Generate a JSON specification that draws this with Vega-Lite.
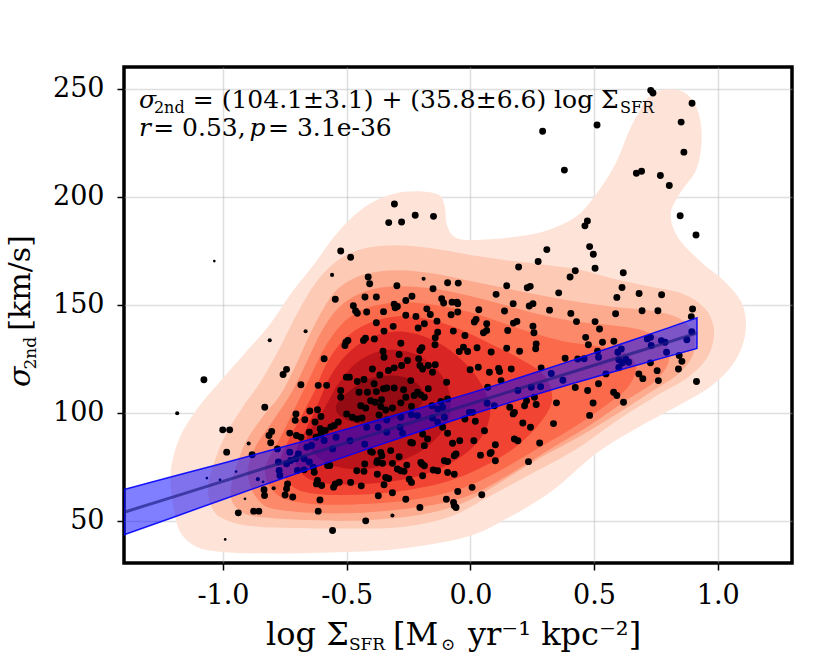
{
  "$schema": "https://vega.github.io/schema/vega-lite/v6.json",
  "width": 668,
  "height": 496,
  "autosize": "none",
  "padding": {"left": 124, "top": 67, "right": 38, "bottom": 101},
  "background": "white",
  "config": {
    "view": {"stroke": "black", "strokeWidth": 3.5},
    "font": "DejaVu Serif",
    "axis": {
      "grid": true,
      "gridColor": "#b0b0b0",
      "gridOpacity": 0.4,
      "gridWidth": 1.5,
      "domain": false,
      "tickColor": "black",
      "tickWidth": 1.5,
      "tickSize": 7,
      "labelFont": "DejaVu Serif",
      "labelFontSize": 27,
      "labelColor": "black",
      "zindex": 1
    },
    "axisX": {"labelPadding": 12, "labelFlush": false},
    "axisY": {"labelPadding": 13}
  },
  "datasets": {
    "kde": [
      {"lv":1,"i":1,"x":-1.212,"y":68.8},{"lv":1,"i":2,"x":-1.195,"y":53.4},{"lv":1,"i":3,"x":-1.169,"y":44.1},{"lv":1,"i":4,"x":-1.108,"y":38.0},{"lv":1,"i":5,"x":-1.003,"y":35.6},{"lv":1,"i":6,"x":-0.795,"y":34.9},{"lv":1,"i":7,"x":-0.5,"y":35.6},{"lv":1,"i":8,"x":-0.274,"y":37.2},{"lv":1,"i":9,"x":-0.013,"y":42.6},{"lv":1,"i":10,"x":0.161,"y":51.9},{"lv":1,"i":11,"x":0.334,"y":64.2},{"lv":1,"i":12,"x":0.508,"y":81.2},{"lv":1,"i":13,"x":0.682,"y":93.5},{"lv":1,"i":14,"x":0.856,"y":104.3},{"lv":1,"i":15,"x":0.98,"y":113},{"lv":1,"i":16,"x":1.07,"y":124},{"lv":1,"i":17,"x":1.112,"y":137},{"lv":1,"i":18,"x":1.10,"y":150},{"lv":1,"i":19,"x":1.03,"y":160.5},{"lv":1,"i":20,"x":0.93,"y":170},{"lv":1,"i":21,"x":0.84,"y":181},{"lv":1,"i":22,"x":0.81,"y":192},{"lv":1,"i":23,"x":0.85,"y":202},{"lv":1,"i":24,"x":0.915,"y":213},{"lv":1,"i":25,"x":0.935,"y":228},{"lv":1,"i":26,"x":0.915,"y":241},{"lv":1,"i":27,"x":0.86,"y":248.5},{"lv":1,"i":28,"x":0.78,"y":249.5},{"lv":1,"i":29,"x":0.72,"y":246},{"lv":1,"i":30,"x":0.68,"y":239},{"lv":1,"i":31,"x":0.64,"y":230},{"lv":1,"i":32,"x":0.59,"y":216},{"lv":1,"i":33,"x":0.52,"y":203},{"lv":1,"i":34,"x":0.43,"y":191},{"lv":1,"i":35,"x":0.30,"y":184},{"lv":1,"i":36,"x":0.15,"y":181},{"lv":1,"i":37,"x":0.0,"y":180},{"lv":1,"i":38,"x":-0.065,"y":181.5},{"lv":1,"i":39,"x":-0.095,"y":187},{"lv":1,"i":40,"x":-0.105,"y":196},{"lv":1,"i":41,"x":-0.13,"y":201},{"lv":1,"i":42,"x":-0.22,"y":202.5},{"lv":1,"i":43,"x":-0.32,"y":201},{"lv":1,"i":44,"x":-0.43,"y":195},{"lv":1,"i":45,"x":-0.54,"y":183},{"lv":1,"i":46,"x":-0.63,"y":169},{"lv":1,"i":47,"x":-0.72,"y":156},{"lv":1,"i":48,"x":-0.81,"y":141},{"lv":1,"i":49,"x":-0.90,"y":129},{"lv":1,"i":50,"x":-1.0,"y":116},{"lv":1,"i":51,"x":-1.09,"y":104},{"lv":1,"i":52,"x":-1.16,"y":92},{"lv":1,"i":53,"x":-1.20,"y":80},
      {"lv":2,"i":1,"x":-1.056,"y":68.8},{"lv":2,"i":2,"x":-1.047,"y":56.5},{"lv":2,"i":3,"x":-0.986,"y":50.3},{"lv":2,"i":4,"x":-0.847,"y":47.2},{"lv":2,"i":5,"x":-0.5,"y":46.5},{"lv":2,"i":6,"x":-0.274,"y":47.2},{"lv":2,"i":7,"x":-0.083,"y":51.9},{"lv":2,"i":8,"x":0.074,"y":61.1},{"lv":2,"i":9,"x":0.248,"y":71.9},{"lv":2,"i":10,"x":0.421,"y":82.7},{"lv":2,"i":11,"x":0.595,"y":96.6},{"lv":2,"i":12,"x":0.769,"y":109},{"lv":2,"i":13,"x":0.88,"y":116.5},{"lv":2,"i":14,"x":0.96,"y":126},{"lv":2,"i":15,"x":0.985,"y":138},{"lv":2,"i":16,"x":0.95,"y":148},{"lv":2,"i":17,"x":0.86,"y":155},{"lv":2,"i":18,"x":0.72,"y":158.5},{"lv":2,"i":19,"x":0.58,"y":162},{"lv":2,"i":20,"x":0.45,"y":166},{"lv":2,"i":21,"x":0.3,"y":168.5},{"lv":2,"i":22,"x":0.15,"y":170.5},{"lv":2,"i":23,"x":0.0,"y":173},{"lv":2,"i":24,"x":-0.15,"y":176},{"lv":2,"i":25,"x":-0.3,"y":177.5},{"lv":2,"i":26,"x":-0.43,"y":176},{"lv":2,"i":27,"x":-0.53,"y":171},{"lv":2,"i":28,"x":-0.62,"y":161},{"lv":2,"i":29,"x":-0.70,"y":146},{"lv":2,"i":30,"x":-0.78,"y":128},{"lv":2,"i":31,"x":-0.85,"y":114},{"lv":2,"i":32,"x":-0.93,"y":101},{"lv":2,"i":33,"x":-1.0,"y":87.3},
      {"lv":3,"i":1,"x":-0.969,"y":64.2},{"lv":3,"i":2,"x":-0.934,"y":55},{"lv":3,"i":3,"x":-0.83,"y":51.5},{"lv":3,"i":4,"x":-0.5,"y":50.0},{"lv":3,"i":5,"x":-0.222,"y":52.5},{"lv":3,"i":6,"x":-0.048,"y":57.5},{"lv":3,"i":7,"x":0.091,"y":65.7},{"lv":3,"i":8,"x":0.265,"y":78.1},{"lv":3,"i":9,"x":0.439,"y":88.9},{"lv":3,"i":10,"x":0.595,"y":99.7},{"lv":3,"i":11,"x":0.734,"y":110},{"lv":3,"i":12,"x":0.84,"y":118},{"lv":3,"i":13,"x":0.90,"y":127},{"lv":3,"i":14,"x":0.90,"y":137},{"lv":3,"i":15,"x":0.84,"y":144},{"lv":3,"i":16,"x":0.72,"y":147.5},{"lv":3,"i":17,"x":0.58,"y":149},{"lv":3,"i":18,"x":0.45,"y":151},{"lv":3,"i":19,"x":0.3,"y":154},{"lv":3,"i":20,"x":0.15,"y":157.5},{"lv":3,"i":21,"x":0.0,"y":161},{"lv":3,"i":22,"x":-0.15,"y":164.5},{"lv":3,"i":23,"x":-0.3,"y":166},{"lv":3,"i":24,"x":-0.43,"y":164},{"lv":3,"i":25,"x":-0.53,"y":158},{"lv":3,"i":26,"x":-0.59,"y":149},{"lv":3,"i":27,"x":-0.65,"y":136},{"lv":3,"i":28,"x":-0.71,"y":121},{"lv":3,"i":29,"x":-0.77,"y":108},{"lv":3,"i":30,"x":-0.84,"y":98},{"lv":3,"i":31,"x":-0.917,"y":84.3},
      {"lv":4,"i":1,"x":-0.90,"y":72},{"lv":4,"i":2,"x":-0.86,"y":60},{"lv":4,"i":3,"x":-0.77,"y":55},{"lv":4,"i":4,"x":-0.5,"y":53.5},{"lv":4,"i":5,"x":-0.2,"y":56.5},{"lv":4,"i":6,"x":0.0,"y":62},{"lv":4,"i":7,"x":0.15,"y":71},{"lv":4,"i":8,"x":0.32,"y":83},{"lv":4,"i":9,"x":0.48,"y":94},{"lv":4,"i":10,"x":0.62,"y":105},{"lv":4,"i":11,"x":0.74,"y":114},{"lv":4,"i":12,"x":0.80,"y":123},{"lv":4,"i":13,"x":0.79,"y":132},{"lv":4,"i":14,"x":0.70,"y":138},{"lv":4,"i":15,"x":0.57,"y":140.5},{"lv":4,"i":16,"x":0.44,"y":142},{"lv":4,"i":17,"x":0.3,"y":145},{"lv":4,"i":18,"x":0.15,"y":149.5},{"lv":4,"i":19,"x":0.0,"y":154},{"lv":4,"i":20,"x":-0.15,"y":157.5},{"lv":4,"i":21,"x":-0.3,"y":158.5},{"lv":4,"i":22,"x":-0.43,"y":156},{"lv":4,"i":23,"x":-0.53,"y":149},{"lv":4,"i":24,"x":-0.6,"y":138},{"lv":4,"i":25,"x":-0.66,"y":124},{"lv":4,"i":26,"x":-0.72,"y":110},{"lv":4,"i":27,"x":-0.8,"y":96},{"lv":4,"i":28,"x":-0.87,"y":84},
      {"lv":5,"i":1,"x":-0.83,"y":74},{"lv":5,"i":2,"x":-0.79,"y":63},{"lv":5,"i":3,"x":-0.69,"y":58.5},{"lv":5,"i":4,"x":-0.5,"y":57.5},{"lv":5,"i":5,"x":-0.25,"y":59.5},{"lv":5,"i":6,"x":-0.05,"y":64.5},{"lv":5,"i":7,"x":0.10,"y":72},{"lv":5,"i":8,"x":0.25,"y":82},{"lv":5,"i":9,"x":0.40,"y":92},{"lv":5,"i":10,"x":0.53,"y":102},{"lv":5,"i":11,"x":0.63,"y":111},{"lv":5,"i":12,"x":0.67,"y":121},{"lv":5,"i":13,"x":0.62,"y":128},{"lv":5,"i":14,"x":0.50,"y":131},{"lv":5,"i":15,"x":0.38,"y":133},{"lv":5,"i":16,"x":0.25,"y":137},{"lv":5,"i":17,"x":0.12,"y":142},{"lv":5,"i":18,"x":0.0,"y":146.5},{"lv":5,"i":19,"x":-0.15,"y":150},{"lv":5,"i":20,"x":-0.3,"y":151},{"lv":5,"i":21,"x":-0.43,"y":148},{"lv":5,"i":22,"x":-0.52,"y":141},{"lv":5,"i":23,"x":-0.59,"y":130},{"lv":5,"i":24,"x":-0.65,"y":116},{"lv":5,"i":25,"x":-0.71,"y":102},{"lv":5,"i":26,"x":-0.77,"y":88},
      {"lv":6,"i":1,"x":-0.77,"y":76},{"lv":6,"i":2,"x":-0.72,"y":66},{"lv":6,"i":3,"x":-0.63,"y":62.5},{"lv":6,"i":4,"x":-0.5,"y":62},{"lv":6,"i":5,"x":-0.3,"y":63.5},{"lv":6,"i":6,"x":-0.1,"y":68},{"lv":6,"i":7,"x":0.05,"y":75},{"lv":6,"i":8,"x":0.18,"y":84},{"lv":6,"i":9,"x":0.28,"y":95},{"lv":6,"i":10,"x":0.33,"y":106},{"lv":6,"i":11,"x":0.30,"y":117},{"lv":6,"i":12,"x":0.2,"y":125},{"lv":6,"i":13,"x":0.08,"y":132},{"lv":6,"i":14,"x":-0.05,"y":139},{"lv":6,"i":15,"x":-0.18,"y":143.5},{"lv":6,"i":16,"x":-0.3,"y":144.5},{"lv":6,"i":17,"x":-0.42,"y":141},{"lv":6,"i":18,"x":-0.51,"y":134},{"lv":6,"i":19,"x":-0.58,"y":123},{"lv":6,"i":20,"x":-0.63,"y":110},{"lv":6,"i":21,"x":-0.69,"y":97},{"lv":6,"i":22,"x":-0.74,"y":86},
      {"lv":7,"i":1,"x":-0.71,"y":79},{"lv":7,"i":2,"x":-0.66,"y":70},{"lv":7,"i":3,"x":-0.55,"y":67},{"lv":7,"i":4,"x":-0.38,"y":67.5},{"lv":7,"i":5,"x":-0.2,"y":71},{"lv":7,"i":6,"x":-0.06,"y":78},{"lv":7,"i":7,"x":0.04,"y":88},{"lv":7,"i":8,"x":0.08,"y":100},{"lv":7,"i":9,"x":0.05,"y":112},{"lv":7,"i":10,"x":-0.03,"y":124},{"lv":7,"i":11,"x":-0.14,"y":133},{"lv":7,"i":12,"x":-0.27,"y":137.5},{"lv":7,"i":13,"x":-0.40,"y":135},{"lv":7,"i":14,"x":-0.50,"y":127},{"lv":7,"i":15,"x":-0.57,"y":116},{"lv":7,"i":16,"x":-0.62,"y":103},{"lv":7,"i":17,"x":-0.67,"y":91},
      {"lv":8,"i":1,"x":-0.66,"y":88},{"lv":8,"i":2,"x":-0.60,"y":78},{"lv":8,"i":3,"x":-0.48,"y":74},{"lv":8,"i":4,"x":-0.33,"y":76},{"lv":8,"i":5,"x":-0.19,"y":83},{"lv":8,"i":6,"x":-0.10,"y":94},{"lv":8,"i":7,"x":-0.08,"y":106},{"lv":8,"i":8,"x":-0.12,"y":118},{"lv":8,"i":9,"x":-0.22,"y":127},{"lv":8,"i":10,"x":-0.34,"y":129},{"lv":8,"i":11,"x":-0.45,"y":124},{"lv":8,"i":12,"x":-0.53,"y":114},{"lv":8,"i":13,"x":-0.59,"y":102},
      {"lv":9,"i":1,"x":-0.53,"y":99},{"lv":9,"i":2,"x":-0.45,"y":95},{"lv":9,"i":3,"x":-0.34,"y":96},{"lv":9,"i":4,"x":-0.24,"y":100},{"lv":9,"i":5,"x":-0.19,"y":106},{"lv":9,"i":6,"x":-0.21,"y":113},{"lv":9,"i":7,"x":-0.29,"y":117},{"lv":9,"i":8,"x":-0.40,"y":116},{"lv":9,"i":9,"x":-0.49,"y":110},{"lv":9,"i":10,"x":-0.54,"y":104}
    ],
    "pts": [
      {"x":0.729,"y":249.2,"w":1},{"x":0.738,"y":248.0,"w":1},{"x":0.896,"y":243.2,"w":1},{"x":0.852,"y":234.5,"w":1},{"x":0.512,"y":233.2,"w":1},{"x":0.292,"y":230.3,"w":1},{"x":0.380,"y":212.3,"w":1},
      {"x":0.863,"y":220.6,"w":1},{"x":0.671,"y":210.8,"w":1},{"x":0.692,"y":211.8,"w":1},{"x":0.768,"y":209.8,"w":1},{"x":0.804,"y":205.2,"w":1},{"x":0.848,"y":191.2,"w":1},{"x":0.912,"y":182.3,"w":1},{"x":0.463,"y":186.5,"w":1},{"x":0.473,"y":188.8,"w":1},{"x":0.482,"y":176.9,"w":1},{"x":0.497,"y":173.4,"w":1},{"x":0.504,"y":166.9,"w":1},{"x":0.618,"y":164.8,"w":1},{"x":0.613,"y":158.0,"w":1},{"x":0.592,"y":153.4,"w":1},{"x":0.682,"y":155.2,"w":1},{"x":0.773,"y":154.6,"w":1},{"x":0.587,"y":145.8,"w":1},{"x":0.694,"y":147.2,"w":1},{"x":0.758,"y":147.2,"w":1},{"x":0.898,"y":148.0,"w":1},{"x":0.893,"y":144.5,"w":1},
      {"x":-0.307,"y":196.6,"w":1},{"x":-0.330,"y":188.0,"w":1},{"x":-0.278,"y":188.3,"w":1},{"x":-0.223,"y":191.4,"w":1},{"x":-0.149,"y":190.9,"w":1},{"x":-0.524,"y":174.9,"w":1},{"x":-0.484,"y":172.0,"w":1},{"x":-1.035,"y":170.2,"w":0.15},{"x":-0.559,"y":163.8,"w":0.35},{"x":0.309,"y":175.5,"w":1},{"x":0.274,"y":170.0,"w":1},{"x":0.195,"y":167.5,"w":1},{"x":0.424,"y":165.7,"w":1},{"x":0.403,"y":162.8,"w":1},{"x":-0.413,"y":162.8,"w":1},{"x":-0.189,"y":162.0,"w":0.35},
      {"x":0.357,"y":155.5,"w":1},{"x":0.320,"y":147.5,"w":1},{"x":0.406,"y":146.0,"w":1},{"x":0.429,"y":142.2,"w":1},{"x":0.383,"y":125.2,"w":1},{"x":0.434,"y":124.9,"w":1},{"x":0.374,"y":115.1,"w":1},{"x":0.348,"y":104.6,"w":1},{"x":0.336,"y":95.0,"w":1},{"x":0.327,"y":118.2,"w":1},{"x":0.424,"y":111.7,"w":1},{"x":0.286,"y":120.8,"w":1},
      {"x":0.504,"y":142.2,"w":1},{"x":0.522,"y":138.8,"w":1},{"x":0.466,"y":134.9,"w":1},{"x":0.534,"y":132.6,"w":1},{"x":0.580,"y":133.1,"w":1},{"x":0.514,"y":128.5,"w":1},{"x":0.46,"y":125.0,"w":1},{"x":0.518,"y":125.7,"w":1},{"x":0.596,"y":128.0,"w":1},{"x":0.610,"y":129.5,"w":1},{"x":0.600,"y":124.5,"w":1},{"x":0.614,"y":123.0,"w":1},{"x":0.628,"y":124.8,"w":1},{"x":0.640,"y":123.4,"w":1},{"x":0.715,"y":134.2,"w":1},{"x":0.728,"y":134.9,"w":1},{"x":0.731,"y":131.1,"w":1},{"x":0.772,"y":133.4,"w":1},{"x":0.787,"y":132.6,"w":1},{"x":0.793,"y":128.0,"w":1},{"x":0.844,"y":126.5,"w":1},{"x":0.855,"y":123.8,"w":1},{"x":0.841,"y":120.3,"w":1},{"x":0.895,"y":137.5,"w":1},{"x":0.875,"y":133.8,"w":1},{"x":0.728,"y":123.1,"w":1},{"x":0.755,"y":119.5,"w":1},{"x":0.760,"y":114.9,"w":1},{"x":0.681,"y":118.0,"w":1},{"x":0.697,"y":115.8,"w":1},{"x":0.914,"y":114.5,"w":1},{"x":0.548,"y":118.0,"w":1},{"x":0.518,"y":113.4,"w":1},{"x":0.474,"y":110.3,"w":1},{"x":0.579,"y":109.5,"w":1},{"x":0.592,"y":108.0,"w":1},{"x":0.600,"y":121.0,"w":1},{"x":0.477,"y":131.5,"w":1},{"x":0.619,"y":104.9,"w":1},{"x":0.482,"y":98.8,"w":1},{"x":0.496,"y":104.5,"w":1},
      {"x":-0.546,"y":152.5,"w":1},{"x":-0.666,"y":137.7,"w":0.35},{"x":-0.811,"y":133.6,"w":0.35},{"x":-0.591,"y":125.0,"w":1},{"x":-0.757,"y":117.7,"w":1},{"x":-0.743,"y":120.1,"w":1},{"x":-0.685,"y":113.0,"w":1},{"x":-0.615,"y":112.7,"w":1},{"x":-0.581,"y":112.7,"w":1},{"x":-1.077,"y":115.3,"w":1},{"x":-1.185,"y":99.8,"w":0.35},{"x":-0.831,"y":102.6,"w":1},{"x":-1.001,"y":92.1,"w":1},{"x":-0.973,"y":92.1,"w":1},{"x":-0.985,"y":81.8,"w":1},{"x":-0.896,"y":85.8,"w":0.35},{"x":-0.882,"y":80.6,"w":1},{"x":-0.814,"y":89.5,"w":1},{"x":-0.803,"y":91.4,"w":1},{"x":-0.807,"y":86.1,"w":1},{"x":-0.780,"y":83.3,"w":1},{"x":-0.730,"y":90.6,"w":1},{"x":-0.703,"y":89.5,"w":1},{"x":-0.685,"y":88.7,"w":1},{"x":-0.705,"y":99.5,"w":1},{"x":-0.708,"y":96.5,"w":1},{"x":-0.669,"y":96.8,"w":1},{"x":-0.649,"y":100.8,"w":1},{"x":-0.618,"y":101.4,"w":1},{"x":-0.651,"y":91.0,"w":1},{"x":-0.628,"y":95.7,"w":1},{"x":-0.604,"y":98.3,"w":1},{"x":-0.607,"y":92.6,"w":1},{"x":-0.586,"y":91.8,"w":1},{"x":-0.604,"y":90.0,"w":1},{"x":-0.624,"y":88.7,"w":1},{"x":-0.564,"y":93.4,"w":1},{"x":-0.550,"y":94.1,"w":1},{"x":-0.534,"y":95.7,"w":1},{"x":-0.591,"y":87.2,"w":1},{"x":-0.557,"y":83.3,"w":1},{"x":-0.543,"y":88.7,"w":1},{"x":-0.776,"y":77.2,"w":1},{"x":-0.773,"y":73.3,"w":1},{"x":-0.770,"y":71.0,"w":1},{"x":-0.743,"y":76.4,"w":1},{"x":-0.730,"y":81.8,"w":1},{"x":-0.726,"y":77.9,"w":1},{"x":-0.705,"y":78.7,"w":1},{"x":-0.695,"y":81.0,"w":1},{"x":-0.661,"y":84.1,"w":1},{"x":-0.642,"y":84.9,"w":1},{"x":-0.672,"y":78.7,"w":1},{"x":-0.651,"y":77.2,"w":1},{"x":-0.699,"y":73.3,"w":1},{"x":-0.672,"y":73.6,"w":1},{"x":-0.635,"y":74.8,"w":1},{"x":-0.631,"y":72.5,"w":1},{"x":-0.577,"y":75.6,"w":1},{"x":-0.568,"y":75.6,"w":1},{"x":-0.618,"y":68.7,"w":1},{"x":-0.622,"y":67.1,"w":1},{"x":-0.601,"y":66.4,"w":1},{"x":-0.546,"y":67.1,"w":1},{"x":-0.553,"y":65.6,"w":1},{"x":-0.530,"y":67.9,"w":1},{"x":-0.739,"y":67.1,"w":1},{"x":-0.743,"y":64.8,"w":1},{"x":-0.834,"y":64.4,"w":1},{"x":-0.832,"y":61.7,"w":1},{"x":-0.795,"y":65.1,"w":0.35},{"x":-0.749,"y":62.0,"w":1},{"x":-0.718,"y":61.0,"w":1},{"x":-0.608,"y":59.7,"w":1},{"x":-0.911,"y":60.2,"w":0.15},{"x":-0.938,"y":53.7,"w":1},{"x":-0.876,"y":54.5,"w":1},{"x":-0.855,"y":54.5,"w":1},{"x":-0.615,"y":54.5,"w":1},{"x":-0.557,"y":45.5,"w":1},{"x":-0.991,"y":41.4,"w":0.15},{"x":-1.065,"y":69.8,"w":0.15},{"x":-1.012,"y":69.0,"w":0.15},{"x":-0.947,"y":72.8,"w":0.15},{"x":-0.859,"y":69.3,"w":0.35},{"x":-0.838,"y":68.1,"w":0.15},
      {"x":-0.407,"y":159.7,"w":1},{"x":-0.297,"y":158.8,"w":1},{"x":-0.151,"y":157.4,"w":1},{"x":-0.092,"y":160.2,"w":1},{"x":-0.049,"y":160.0,"w":1},{"x":0.147,"y":158.8,"w":1},{"x":0.230,"y":157.9,"w":1},{"x":0.242,"y":158.5,"w":1},
      {"x":-0.426,"y":153.6,"w":1},{"x":-0.380,"y":153.6,"w":1},{"x":-0.236,"y":153.9,"w":1},{"x":-0.261,"y":152.0,"w":1},{"x":-0.116,"y":152.8,"w":1},{"x":-0.108,"y":150.8,"w":1},{"x":-0.074,"y":151.2,"w":1},{"x":-0.054,"y":151.2,"w":1},{"x":-0.051,"y":150.5,"w":1},{"x":0.104,"y":154.8,"w":1},{"x":0.173,"y":150.5,"w":1},
      {"x":-0.473,"y":149.5,"w":1},{"x":-0.464,"y":147.1,"w":1},{"x":-0.457,"y":146.1,"w":1},{"x":-0.419,"y":146.6,"w":1},{"x":-0.351,"y":146.8,"w":1},{"x":-0.308,"y":150.2,"w":1},{"x":-0.304,"y":148.6,"w":1},{"x":-0.295,"y":149.2,"w":1},{"x":-0.176,"y":148.1,"w":1},{"x":-0.162,"y":145.5,"w":1},{"x":-0.078,"y":145.4,"w":1},{"x":-0.051,"y":146.6,"w":1},{"x":0.034,"y":147.7,"w":1},{"x":0.138,"y":147.1,"w":1},{"x":0.238,"y":149.4,"w":1},{"x":0.253,"y":150.5,"w":1},
      {"x":-0.380,"y":141.7,"w":1},{"x":-0.349,"y":137.8,"w":1},{"x":-0.312,"y":140.0,"w":1},{"x":-0.261,"y":145.1,"w":1},{"x":-0.220,"y":144.6,"w":1},{"x":-0.186,"y":141.2,"w":1},{"x":-0.211,"y":139.2,"w":1},{"x":-0.135,"y":142.4,"w":1},{"x":-0.132,"y":137.3,"w":1},{"x":-0.142,"y":134.7,"w":1},{"x":-0.069,"y":137.8,"w":1},{"x":-0.022,"y":135.8,"w":1},{"x":0.016,"y":142.0,"w":1},{"x":0.023,"y":143.2,"w":1},{"x":0.066,"y":141.2,"w":1},{"x":0.053,"y":137.0,"w":1},{"x":0.066,"y":138.1,"w":1},{"x":0.151,"y":138.1,"w":1},{"x":0.174,"y":141.5,"w":1},{"x":0.188,"y":142.3,"w":1},{"x":0.253,"y":140.1,"w":1},{"x":0.257,"y":137.0,"w":1},
      {"x":-0.503,"y":132.7,"w":1},{"x":-0.495,"y":133.5,"w":1},{"x":-0.507,"y":131.1,"w":1},{"x":-0.432,"y":133.5,"w":1},{"x":-0.424,"y":134.5,"w":1},{"x":-0.388,"y":134.2,"w":1},{"x":-0.281,"y":132.2,"w":1},{"x":-0.196,"y":130.1,"w":1},{"x":-0.204,"y":128.8,"w":1},{"x":-0.143,"y":131.5,"w":1},{"x":-0.045,"y":128.4,"w":1},{"x":-0.011,"y":128.4,"w":1},{"x":-0.028,"y":130.4,"w":1},{"x":0.027,"y":130.1,"w":1},{"x":0.084,"y":128.1,"w":1},{"x":0.147,"y":129.9,"w":1},{"x":0.199,"y":128.5,"w":1},{"x":0.264,"y":129.6,"w":1},{"x":0.266,"y":131.9,"w":1},
      {"x":-0.353,"y":128.5,"w":1},{"x":-0.349,"y":125.7,"w":1},{"x":-0.288,"y":127.0,"w":1},{"x":-0.254,"y":124.2,"w":1},{"x":-0.278,"y":121.9,"w":1},{"x":-0.308,"y":120.8,"w":1},{"x":-0.331,"y":119.6,"w":1},{"x":-0.366,"y":117.5,"w":1},{"x":-0.396,"y":120.3,"w":1},{"x":-0.501,"y":116.5,"w":1},{"x":-0.489,"y":116.5,"w":1},{"x":-0.457,"y":114.5,"w":1},{"x":-0.430,"y":115.4,"w":1},{"x":-0.389,"y":113.4,"w":1},{"x":-0.351,"y":111.1,"w":1},{"x":-0.338,"y":111.5,"w":1},{"x":-0.308,"y":111.5,"w":1},{"x":-0.270,"y":110.7,"w":1},{"x":-0.241,"y":114.9,"w":1},{"x":-0.209,"y":125.0,"w":1},{"x":-0.204,"y":121.9,"w":1},{"x":-0.170,"y":121.9,"w":1},{"x":-0.193,"y":120.3,"w":1},{"x":-0.142,"y":122.2,"w":1},{"x":-0.153,"y":118.8,"w":1},{"x":-0.096,"y":114.1,"w":1},{"x":-0.001,"y":119.9,"w":1},{"x":0.032,"y":121.1,"w":1},{"x":0.077,"y":118.8,"w":1},{"x":0.114,"y":120.5,"w":1},{"x":0.118,"y":119.1,"w":1},{"x":0.124,"y":114.9,"w":1},{"x":0.165,"y":120.3,"w":1},{"x":0.070,"y":111.8,"w":1},{"x":0.192,"y":110.3,"w":1},{"x":0.246,"y":111.8,"w":1},{"x":0.284,"y":112.1,"w":1},{"x":0.227,"y":105.6,"w":1},
      {"x":-0.524,"y":110.3,"w":1},{"x":-0.524,"y":107.2,"w":1},{"x":-0.450,"y":109.5,"w":1},{"x":-0.416,"y":109.5,"w":1},{"x":-0.380,"y":109.8,"w":1},{"x":-0.403,"y":105.6,"w":1},{"x":-0.385,"y":104.9,"w":1},{"x":-0.359,"y":106.0,"w":1},{"x":-0.362,"y":102.9,"w":1},{"x":-0.342,"y":101.3,"w":1},{"x":-0.315,"y":102.2,"w":1},{"x":-0.281,"y":104.6,"w":1},{"x":-0.261,"y":107.2,"w":1},{"x":-0.227,"y":108.0,"w":1},{"x":-0.214,"y":109.5,"w":1},{"x":-0.200,"y":108.3,"w":1},{"x":-0.186,"y":107.2,"w":1},{"x":-0.170,"y":111.1,"w":1},{"x":-0.238,"y":102.9,"w":1},{"x":-0.155,"y":103.3,"w":1},{"x":-0.119,"y":105.2,"w":1},{"x":-0.092,"y":106.4,"w":1},{"x":-0.112,"y":102.6,"w":1},{"x":-0.132,"y":101.8,"w":1},{"x":-0.500,"y":99.5,"w":1},{"x":-0.443,"y":103.3,"w":1},{"x":-0.423,"y":102.2,"w":1},{"x":-0.477,"y":97.9,"w":1},{"x":-0.458,"y":97.1,"w":1},
      {"x":-0.004,"y":100.2,"w":1},{"x":0.009,"y":100.2,"w":1},{"x":0.068,"y":104.4,"w":1},{"x":0.097,"y":103.3,"w":1},{"x":0.159,"y":102.6,"w":1},{"x":0.178,"y":100.2,"w":1},{"x":0.173,"y":99.5,"w":1},{"x":0.219,"y":103.3,"w":1},{"x":0.259,"y":107.2,"w":1},{"x":0.266,"y":103.8,"w":1},
      {"x":-0.438,"y":97.6,"w":1},{"x":-0.369,"y":99.0,"w":1},{"x":-0.338,"y":96.7,"w":1},{"x":-0.281,"y":97.9,"w":1},{"x":-0.238,"y":99.1,"w":1},{"x":-0.214,"y":98.7,"w":1},{"x":-0.153,"y":97.6,"w":1},{"x":-0.105,"y":97.9,"w":1},{"x":-0.092,"y":90.5,"w":1},{"x":-0.112,"y":93.3,"w":1},{"x":-0.132,"y":95.6,"w":1},{"x":-0.193,"y":90.2,"w":1},{"x":-0.173,"y":87.9,"w":1},{"x":-0.241,"y":86.3,"w":1},{"x":-0.234,"y":86.0,"w":1},{"x":-0.186,"y":84.8,"w":1},{"x":-0.284,"y":93.3,"w":1},{"x":-0.274,"y":90.5,"w":1},{"x":-0.338,"y":91.0,"w":1},{"x":-0.373,"y":93.3,"w":1},{"x":-0.419,"y":93.3,"w":1},{"x":-0.486,"y":87.1,"w":1},{"x":-0.427,"y":85.5,"w":1},{"x":-0.403,"y":82.1,"w":1},{"x":-0.396,"y":81.7,"w":1},{"x":-0.362,"y":81.7,"w":1},{"x":-0.358,"y":80.1,"w":1},{"x":-0.322,"y":82.5,"w":1},{"x":-0.043,"y":87.1,"w":1},{"x":-0.072,"y":85.9,"w":1},{"x":-0.022,"y":97.1,"w":1},{"x":0.020,"y":96.1,"w":1},{"x":0.057,"y":91.7,"w":1},{"x":0.014,"y":87.1,"w":1},{"x":0.101,"y":85.2,"w":1},{"x":0.084,"y":81.7,"w":1},{"x":0.178,"y":87.9,"w":1},{"x":0.192,"y":87.1,"w":1},{"x":0.212,"y":95.3,"w":1},{"x":0.243,"y":93.3,"w":1},{"x":0.280,"y":86.0,"w":1},
      {"x":-0.376,"y":77.8,"w":1},{"x":-0.378,"y":77.0,"w":1},{"x":-0.355,"y":76.6,"w":1},{"x":-0.288,"y":79.7,"w":1},{"x":-0.315,"y":76.6,"w":1},{"x":-0.257,"y":75.8,"w":1},{"x":-0.200,"y":77.0,"w":1},{"x":-0.186,"y":75.5,"w":1},{"x":-0.196,"y":76.3,"w":1},{"x":-0.150,"y":73.5,"w":1},{"x":-0.105,"y":77.8,"w":1},{"x":-0.092,"y":77.5,"w":1},{"x":-0.065,"y":80.1,"w":1},{"x":-0.058,"y":80.9,"w":1},{"x":0.041,"y":80.4,"w":1},{"x":0.080,"y":81.2,"w":1},{"x":0.101,"y":77.8,"w":1},{"x":0.235,"y":77.4,"w":1},
      {"x":-0.459,"y":73.2,"w":1},{"x":-0.430,"y":72.9,"w":1},{"x":-0.427,"y":76.3,"w":1},{"x":-0.376,"y":71.6,"w":1},{"x":-0.295,"y":74.0,"w":1},{"x":-0.281,"y":73.2,"w":1},{"x":-0.268,"y":72.9,"w":1},{"x":-0.342,"y":70.1,"w":1},{"x":-0.330,"y":69.6,"w":1},{"x":-0.247,"y":69.3,"w":1},{"x":-0.238,"y":67.8,"w":1},{"x":-0.193,"y":70.9,"w":1},{"x":-0.132,"y":73.2,"w":1},{"x":-0.092,"y":72.4,"w":1},{"x":-0.065,"y":71.6,"w":1},{"x":-0.484,"y":67.8,"w":1},{"x":-0.441,"y":66.2,"w":1},{"x":-0.349,"y":66.7,"w":1},
      {"x":-0.372,"y":61.6,"w":1},{"x":-0.315,"y":63.0,"w":1},{"x":-0.261,"y":60.0,"w":1},{"x":-0.204,"y":56.2,"w":1},{"x":-0.097,"y":60.0,"w":1},{"x":-0.068,"y":58.5,"w":1},{"x":-0.065,"y":57.0,"w":1},{"x":-0.058,"y":56.2,"w":1},{"x":-0.051,"y":63.6,"w":1},{"x":0.007,"y":65.5,"w":1},{"x":0.046,"y":62.1,"w":1},{"x":-0.423,"y":50.0,"w":1},{"x":-0.315,"y":52.5,"w":0.35}
    ],
    "fit": [
      {"x":-1.4,"lo":43.5,"hi":64.5,"fit":54.0},
      {"x":-1.2,"lo":51.7,"hi":70.6,"fit":61.1},
      {"x":-1.0,"lo":59.9,"hi":76.7,"fit":68.3},
      {"x":-0.8,"lo":68.0,"hi":82.9,"fit":75.5},
      {"x":-0.6,"lo":76.0,"hi":89.2,"fit":82.6},
      {"x":-0.4,"lo":83.9,"hi":95.7,"fit":89.8},
      {"x":-0.2,"lo":91.6,"hi":102.3,"fit":96.9},
      {"x":0.0,"lo":99.1,"hi":109.1,"fit":104.1},
      {"x":0.2,"lo":106.2,"hi":116.3,"fit":111.3},
      {"x":0.4,"lo":113.1,"hi":123.8,"fit":118.4},
      {"x":0.6,"lo":119.7,"hi":131.5,"fit":125.6},
      {"x":0.8,"lo":126.1,"hi":139.3,"fit":132.7},
      {"x":0.916,"lo":129.8,"hi":144.0,"fit":136.9}
    ],
    "txt": [
      {"g":"a","t":"= (104.1±3.1) + (35.8±6.6) log Σ","x":-1.122,"y":241.0},
      {"g":"a","t":"= 0.53,","x":-1.282,"y":228.1},
      {"g":"a","t":"= 3.1e-36","x":-0.818,"y":228.1},
      {"g":"ai","t":"σ","x":-1.339,"y":241.0},
      {"g":"ai","t":"r","x":-1.339,"y":228.1},
      {"g":"ai","t":"p","x":-0.893,"y":228.1},
      {"g":"as","t":"2nd","x":-1.279,"y":241.0},
      {"g":"as","t":"SFR","x":0.605,"y":241.0},
      {"g":"xt","t":"log Σ","x":-0.826,"y":-7.5},
      {"g":"xt","t":"[M","x":-0.313,"y":-7.5},
      {"g":"xt","t":"yr⁻¹ kpc⁻²]","x":-0.010,"y":-7.5},
      {"g":"xs","t":"SFR","x":-0.491,"y":-7.5},
      {"g":"xs","t":"⊙","x":-0.119,"y":-7.5},
      {"g":"yt","t":"[km/s]","x":-1.781,"y":138.0},
      {"g":"yi","t":"σ","x":-1.781,"y":111.9},
      {"g":"ys","t":"2nd","x":-1.781,"y":120.0}
    ]
  },
  "layer": [
    {
      "data": {"name": "kde"},
      "mark": {"type": "line", "filled": true, "interpolate": "cardinal-closed", "strokeWidth": 0, "clip": true},
      "encoding": {
        "x": {"field": "x", "type": "quantitative", "title": null,
              "scale": {"domain": [-1.4, 1.3], "nice": false, "zero": false},
              "axis": {"values": [-1, -0.5, 0, 0.5, 1], "labelExpr": "datum.value < 0 ? '-' + format(-datum.value, '.1f') : format(datum.value, '.1f')"}},
        "y": {"field": "y", "type": "quantitative", "title": null,
              "scale": {"domain": [30.5, 260], "nice": false, "zero": false},
              "axis": {"values": [50, 100, 150, 200, 250], "format": "d"}},
        "color": {"field": "lv", "type": "ordinal", "legend": null,
                  "scale": {"domain": [1, 2, 3, 4, 5, 6, 7, 8, 9],
                            "range": ["#fee4d8", "#fdcab5", "#fcab8f", "#fc8a6a", "#fb6a4a", "#f14432", "#d92523", "#bb141a", "#940b13"]}},
        "order": {"field": "i", "type": "quantitative"}
      }
    },
    {
      "data": {"name": "pts"},
      "mark": {"type": "circle", "color": "black", "opacity": 1, "clip": true},
      "encoding": {
        "x": {"field": "x", "type": "quantitative", "title": null, "scale": {"domain": [-1.4, 1.3], "nice": false, "zero": false}},
        "y": {"field": "y", "type": "quantitative", "title": null, "scale": {"domain": [30.5, 260], "nice": false, "zero": false}},
        "size": {"field": "w", "type": "quantitative", "legend": null, "scale": {"domain": [0, 1], "range": [0, 48]}}
      }
    },
    {
      "data": {"name": "fit"},
      "mark": {"type": "area", "color": "#0000ff", "fillOpacity": 0.5, "stroke": "#0000ff", "strokeWidth": 1.5, "strokeOpacity": 0.9, "clip": true},
      "encoding": {
        "x": {"field": "x", "type": "quantitative", "title": null, "scale": {"domain": [-1.4, 1.3], "nice": false, "zero": false}},
        "y": {"field": "lo", "type": "quantitative", "title": null, "scale": {"domain": [30.5, 260], "nice": false, "zero": false}},
        "y2": {"field": "hi"}
      }
    },
    {
      "data": {"name": "fit"},
      "mark": {"type": "line", "color": "#1a1a80", "opacity": 0.65, "strokeWidth": 3, "clip": true},
      "encoding": {
        "x": {"field": "x", "type": "quantitative", "title": null, "scale": {"domain": [-1.4, 1.3], "nice": false, "zero": false}},
        "y": {"field": "fit", "type": "quantitative", "title": null, "scale": {"domain": [30.5, 260], "nice": false, "zero": false}}
      }
    },
    {
      "data": {"name": "txt"},
      "transform": [{"filter": "datum.g == 'a'"}],
      "mark": {"type": "text", "align": "left", "baseline": "alphabetic", "font": "DejaVu Serif", "fontSize": 25, "color": "black"},
      "encoding": {
        "x": {"field": "x", "type": "quantitative", "title": null, "scale": {"domain": [-1.4, 1.3], "nice": false, "zero": false}},
        "y": {"field": "y", "type": "quantitative", "title": null, "scale": {"domain": [30.5, 260], "nice": false, "zero": false}},
        "text": {"field": "t"}
      }
    },
    {
      "data": {"name": "txt"},
      "transform": [{"filter": "datum.g == 'ai'"}],
      "mark": {"type": "text", "align": "left", "baseline": "alphabetic", "font": "DejaVu Serif", "fontStyle": "italic", "fontSize": 25, "color": "black"},
      "encoding": {
        "x": {"field": "x", "type": "quantitative", "title": null, "scale": {"domain": [-1.4, 1.3], "nice": false, "zero": false}},
        "y": {"field": "y", "type": "quantitative", "title": null, "scale": {"domain": [30.5, 260], "nice": false, "zero": false}},
        "text": {"field": "t"}
      }
    },
    {
      "data": {"name": "txt"},
      "transform": [{"filter": "datum.g == 'as'"}],
      "mark": {"type": "text", "align": "left", "baseline": "alphabetic", "font": "DejaVu Serif", "fontSize": 16, "dy": 5, "color": "black"},
      "encoding": {
        "x": {"field": "x", "type": "quantitative", "title": null, "scale": {"domain": [-1.4, 1.3], "nice": false, "zero": false}},
        "y": {"field": "y", "type": "quantitative", "title": null, "scale": {"domain": [30.5, 260], "nice": false, "zero": false}},
        "text": {"field": "t"}
      }
    },
    {
      "data": {"name": "txt"},
      "transform": [{"filter": "datum.g == 'xt'"}],
      "mark": {"type": "text", "align": "left", "baseline": "alphabetic", "font": "DejaVu Serif", "fontSize": 32, "color": "black"},
      "encoding": {
        "x": {"field": "x", "type": "quantitative", "title": null, "scale": {"domain": [-1.4, 1.3], "nice": false, "zero": false}},
        "y": {"field": "y", "type": "quantitative", "title": null, "scale": {"domain": [30.5, 260], "nice": false, "zero": false}},
        "text": {"field": "t"}
      }
    },
    {
      "data": {"name": "txt"},
      "transform": [{"filter": "datum.g == 'xs'"}],
      "mark": {"type": "text", "align": "left", "baseline": "alphabetic", "font": "DejaVu Serif", "fontSize": 17, "dy": 5, "color": "black"},
      "encoding": {
        "x": {"field": "x", "type": "quantitative", "title": null, "scale": {"domain": [-1.4, 1.3], "nice": false, "zero": false}},
        "y": {"field": "y", "type": "quantitative", "title": null, "scale": {"domain": [30.5, 260], "nice": false, "zero": false}},
        "text": {"field": "t"}
      }
    },
    {
      "data": {"name": "txt"},
      "transform": [{"filter": "datum.g == 'yt'"}],
      "mark": {"type": "text", "align": "left", "baseline": "alphabetic", "angle": 270, "font": "DejaVu Serif", "fontSize": 30, "color": "black"},
      "encoding": {
        "x": {"field": "x", "type": "quantitative", "title": null, "scale": {"domain": [-1.4, 1.3], "nice": false, "zero": false}},
        "y": {"field": "y", "type": "quantitative", "title": null, "scale": {"domain": [30.5, 260], "nice": false, "zero": false}},
        "text": {"field": "t"}
      }
    },
    {
      "data": {"name": "txt"},
      "transform": [{"filter": "datum.g == 'yi'"}],
      "mark": {"type": "text", "align": "left", "baseline": "alphabetic", "angle": 270, "font": "DejaVu Serif", "fontStyle": "italic", "fontSize": 30, "color": "black"},
      "encoding": {
        "x": {"field": "x", "type": "quantitative", "title": null, "scale": {"domain": [-1.4, 1.3], "nice": false, "zero": false}},
        "y": {"field": "y", "type": "quantitative", "title": null, "scale": {"domain": [30.5, 260], "nice": false, "zero": false}},
        "text": {"field": "t"}
      }
    },
    {
      "data": {"name": "txt"},
      "transform": [{"filter": "datum.g == 'ys'"}],
      "mark": {"type": "text", "align": "left", "baseline": "alphabetic", "angle": 270, "font": "DejaVu Serif", "fontSize": 17, "dy": 6, "color": "black"},
      "encoding": {
        "x": {"field": "x", "type": "quantitative", "title": null, "scale": {"domain": [-1.4, 1.3], "nice": false, "zero": false}},
        "y": {"field": "y", "type": "quantitative", "title": null, "scale": {"domain": [30.5, 260], "nice": false, "zero": false}},
        "text": {"field": "t"}
      }
    }
  ]
}
